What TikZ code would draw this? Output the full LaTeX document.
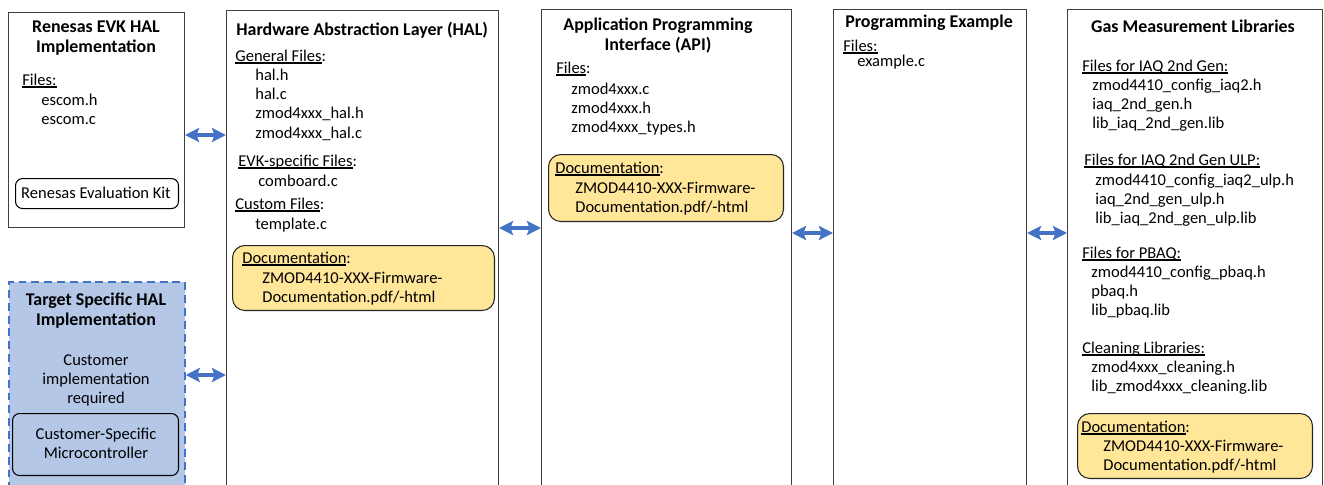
\documentclass[tikz,border=0pt]{standalone}
\usepackage{fontspec}
\setmainfont{Carlito}
\usetikzlibrary{arrows.meta}
\definecolor{linkblue}{HTML}{4472C4}
\definecolor{docyellow}{HTML}{FFE699}
\definecolor{targetblue}{HTML}{B4C7E7}
\definecolor{framegray}{HTML}{404040}
\newcommand{\fileshead}[1]{\setbox0\hbox{#1}\rlap{\rule[-1.7pt]{\wd0}{0.9pt}}\box0}
\tikzset{
  {panel/.style} ={draw=framegray, line width=0.6pt, fill=white,
                   anchor=north west, inner sep=0},
  {target panel/.style} ={panel, draw=linkblue, fill=targetblue,
                   dash pattern=on 4.5pt off 2.8pt, line width=1pt},
  {doc box/.style} ={draw=black!85, fill=docyellow, rounded corners=7pt,
                   anchor=north west, inner sep=0, line width=0.6pt},
  {chip box/.style} ={draw=black, rounded corners=4pt,
                   anchor=north west, inner sep=0, line width=0.6pt},
  % multi-line texts are placed by the baseline of their last line
  {txt/.style} ={anchor=base west, align=left, inner sep=0,
                   font=\fontsize{9.4}{11}\selectfont},
  {ctxt/.style} ={txt, anchor=base, align=center},
  {title/.style} ={ctxt, font=\bfseries\fontsize{10.2}{11.6}\selectfont},
  link/.style ={{Stealth[length=8pt,width=8pt,inset=1.5pt]}-{Stealth[length=8pt,width=8pt,inset=1.5pt]},
                   linkblue, line width=1.8pt},
}

\begin{document}
\begin{tikzpicture}[x=0.02cm, y=-0.02cm]
\clip (0,0) rectangle (1324,484);
% panels
\node[panel, minimum width=3.52cm, minimum height=4.30cm] (evk) at (8,12) {};
\node[target panel, minimum width=3.52cm, minimum height=4.60cm] (target) at (8,281) {};
\node[panel, minimum width=5.44cm, minimum height=9.80cm] (hal) at (226,10) {};
\node[panel, minimum width=5.00cm, minimum height=9.82cm] (api) at (541,9) {};
\node[panel, minimum width=3.86cm, minimum height=9.82cm] (prog) at (833,9) {};
\node[panel, minimum width=5.10cm, minimum height=9.82cm] (gas) at (1067,9) {};

% renesas evk
\node[title] (evkT) at (96,52.4) {Renesas EVK HAL\\Implementation};
\node[txt] (evkH) at (22,85) {\fileshead{Files:}};
\node[txt] (evkF) at (41,124.4) {escom.h\\escom.c};
\node[chip box, minimum width=3.26cm, minimum height=0.60cm] (kit) at (15,178) {};
\node[ctxt] (kitT) at (96,198) {Renesas Evaluation Kit};

% target specific
\node[title] (tgtT) at (96,325.4) {Target Specific HAL\\Implementation};
\node[ctxt] (tgtN) at (96,403.8) {Customer\\implementation\\required};
\node[chip box, minimum width=3.32cm, minimum height=1.24cm] (mcu) at (12,413) {};
\node[ctxt] (mcuT) at (96,458.4) {Customer-Specific\\Microcontroller};

% hal
\node[title, anchor=base west] (halT) at (236,35) {Hardware Abstraction Layer (HAL)};
\node[txt] (halH1) at (235,61) {\fileshead{General Files}:};
\node[txt] (halF1) at (255,138.2) {hal.h\\hal.c\\zmod4xxx\_hal.h\\zmod4xxx\_hal.c};
\node[txt] (halH2) at (238,166) {\fileshead{EVK-specific Files}:};
\node[txt] (halF2) at (258,186) {comboard.c};
\node[txt] (halH3) at (235,209) {\fileshead{Custom Files}:};
\node[txt] (halF3) at (255,229) {template.c};
\node[doc box, minimum width=5.24cm, minimum height=1.30cm] (halD) at (232,245) {};
\node[txt] (halDH) at (242,263) {\fileshead{Documentation}:};
\node[txt] (halDF) at (262,302.4) {ZMOD4410-XXX-Firmware-\\Documentation.pdf/-html};

% api
\node[title] (apiT) at (658,50.4) {Application Programming\\Interface (API)};
\node[txt] (apiH) at (556,73) {\fileshead{Files}:};
\node[txt] (apiF) at (571,132.8) {zmod4xxx.c\\zmod4xxx.h\\zmod4xxx\_types.h};
\node[doc box, minimum width=4.70cm, minimum height=1.34cm] (apiD) at (548,154) {};
\node[txt] (apiDH) at (555,173) {\fileshead{Documentation}:};
\node[txt] (apiDF) at (575,212.4) {ZMOD4410-XXX-Firmware-\\Documentation.pdf/-html};

% programming example
\node[title] (progT) at (929,27) {Programming Example};
\node[txt] (progH) at (843,51) {\fileshead{Files:}};
\node[txt] (progF) at (857,66) {example.c};

% gas libraries
\node[title] (gasT) at (1193,32) {Gas Measurement Libraries};
\node[txt] (gasH1) at (1082,71) {\fileshead{Files for IAQ 2nd Gen:}};
\node[txt] (gasF1) at (1092,128.8) {zmod4410\_config\_iaq2.h\\iaq\_2nd\_gen.h\\lib\_iaq\_2nd\_gen.lib};
\node[txt] (gasH2) at (1084,165) {\fileshead{Files for IAQ 2nd Gen ULP:}};
\node[txt] (gasF2) at (1095,223.8) {zmod4410\_config\_iaq2\_ulp.h\\iaq\_2nd\_gen\_ulp.h\\lib\_iaq\_2nd\_gen\_ulp.lib};
\node[txt] (gasH3) at (1082,258) {\fileshead{Files for PBAQ:}};
\node[txt] (gasF3) at (1091,315.8) {zmod4410\_config\_pbaq.h\\pbaq.h\\lib\_pbaq.lib};
\node[txt] (gasH4) at (1082,353) {\fileshead{Cleaning Libraries:}};
\node[txt] (gasF4) at (1091,391.4) {zmod4xxx\_cleaning.h\\lib\_zmod4xxx\_cleaning.lib};
\node[doc box, minimum width=4.70cm, minimum height=1.30cm] (gasD) at (1077,413) {};
\node[txt] (gasDH) at (1081,432) {\fileshead{Documentation}:};
\node[txt] (gasDF) at (1103,470.4) {ZMOD4410-XXX-Firmware-\\Documentation.pdf/-html};

% links
\draw[link] (evk.east |- 0,135) -- (hal.west |- 0,135);
\draw[link] (target.east |- 0,375) -- (hal.west |- 0,375);
\draw[link] (hal.east |- 0,228) -- (api.west |- 0,228);
\draw[link] (api.east |- 0,233) -- (prog.west |- 0,233);
\draw[link] (prog.east |- 0,233) -- (gas.west |- 0,233);
\end{tikzpicture}
\end{document}
